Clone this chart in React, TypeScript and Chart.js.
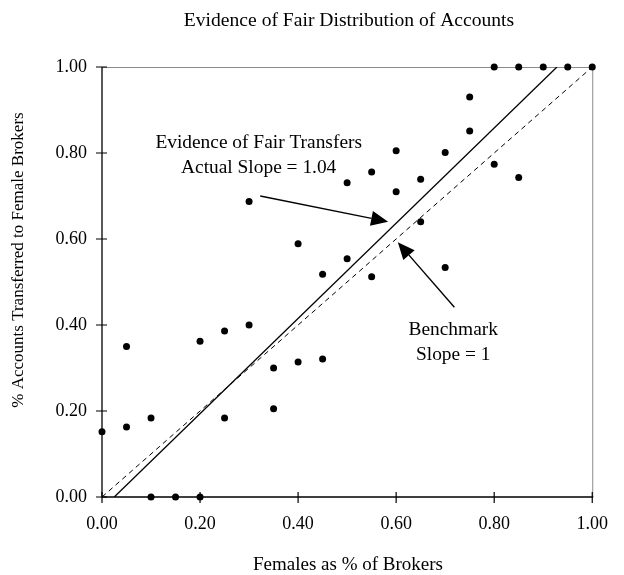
import React, { useEffect, useRef } from "react";
import { Chart, registerables } from "chart.js";

Chart.register(...registerables);

const FONT = "'Liberation Serif', 'Times New Roman', serif";

const chartTitle = "Evidence of Fair Distribution of Accounts";
const xTitle = "Females as % of Brokers";
const yTitle = "% Accounts Transferred to Female Brokers";

// Observations: share of female brokers vs share of accounts transferred to them
const brokerShare = [
  0.0, 0.05, 0.05, 0.1, 0.1, 0.15, 0.2, 0.2, 0.25, 0.25, 0.3, 0.3, 0.35, 0.35,
  0.4, 0.4, 0.45, 0.45, 0.5, 0.5, 0.55, 0.55, 0.6, 0.6, 0.65, 0.65, 0.7, 0.7,
  0.75, 0.75, 0.8, 0.8, 0.85, 0.85, 0.9, 0.95, 1.0,
];
const accountShare = [
  0.152, 0.35, 0.163, 0.184, 0.0, 0.0, 0.0, 0.362, 0.386, 0.184, 0.4, 0.687,
  0.3, 0.205, 0.589, 0.314, 0.321, 0.518, 0.731, 0.554, 0.756, 0.512, 0.805,
  0.71, 0.739, 0.64, 0.801, 0.534, 0.93, 0.851, 0.774, 1.0, 1.0, 0.743, 1.0,
  1.0, 1.0,
];

// Fitted line (actual slope) and benchmark line (slope = 1)
const fitX = [0.025, 0.928];
const fitY = [0.0, 1.0];
const benchX = [0.0, 1.0];
const benchY = [0.0, 1.0];

const tickValues = [0, 0.2, 0.4, 0.6, 0.8, 1.0];

// Annotations (data coordinates)
const fitNote = ["Evidence of Fair Transfers", "Actual Slope = 1.04"];
const fitNoteAt = { x: 0.3196, y: [0.811, 0.753] };
const fitArrow = { from: [0.3228, 0.7], to: [0.5836, 0.6402] };
const benchNote = ["Benchmark", "Slope = 1"];
const benchNoteAt = { x: 0.7164, y: [0.376, 0.318] };
const benchArrow = { from: [0.7188, 0.4412], to: [0.6034, 0.5923] };

function drawArrow(ctx: CanvasRenderingContext2D, x1: number, y1: number, x2: number, y2: number) {
  const ang = Math.atan2(y2 - y1, x2 - x1);
  const len = 17;
  const hw = 7.5;
  const bx = x2 - len * Math.cos(ang);
  const by = y2 - len * Math.sin(ang);
  ctx.beginPath();
  ctx.moveTo(x1, y1);
  ctx.lineTo(bx, by);
  ctx.lineWidth = 1.4;
  ctx.strokeStyle = "#000";
  ctx.stroke();
  ctx.beginPath();
  ctx.moveTo(x2, y2);
  ctx.lineTo(bx + hw * Math.sin(ang), by - hw * Math.cos(ang));
  ctx.lineTo(bx - hw * Math.sin(ang), by + hw * Math.cos(ang));
  ctx.closePath();
  ctx.fillStyle = "#000";
  ctx.fill();
}

const framePlugin = {
  id: "frame",
  beforeDatasetsDraw(chart: any) {
    const { ctx, chartArea: a, scales } = chart;
    const xs = scales.x;
    const ys = scales.y;
    ctx.save();
    // gray top and right frame
    ctx.strokeStyle = "#8a8a8a";
    ctx.lineWidth = 1;
    ctx.beginPath();
    ctx.moveTo(a.left, a.top + 0.5);
    ctx.lineTo(a.right + 0.5, a.top + 0.5);
    ctx.lineTo(a.right + 0.5, a.bottom);
    ctx.stroke();
    // black left and bottom axes
    ctx.strokeStyle = "#000";
    ctx.lineWidth = 1.3;
    ctx.beginPath();
    ctx.moveTo(a.left, a.top);
    ctx.lineTo(a.left, a.bottom);
    ctx.lineTo(a.right + 1, a.bottom);
    ctx.stroke();
    // crossing tick marks
    ctx.lineWidth = 1.2;
    ctx.beginPath();
    tickValues.forEach((v) => {
      const px = xs.getPixelForValue(v);
      ctx.moveTo(px, a.bottom - 5);
      ctx.lineTo(px, a.bottom + 6);
      const py = ys.getPixelForValue(v);
      ctx.moveTo(a.left - 6, py);
      ctx.lineTo(a.left + 5, py);
    });
    ctx.stroke();
    ctx.restore();
  },
  afterDraw(chart: any) {
    const { ctx, scales } = chart;
    const xs = scales.x;
    const ys = scales.y;
    ctx.save();
    ctx.fillStyle = "#000";
    ctx.textAlign = "center";
    ctx.textBaseline = "alphabetic";
    // titles
    ctx.font = `19.6px ${FONT}`;
    ctx.fillText(chartTitle, 349, 25.5);
    ctx.font = `19px ${FONT}`;
    ctx.fillText(xTitle, 348, 569.5);
    ctx.save();
    ctx.translate(23, 260);
    ctx.rotate(-Math.PI / 2);
    ctx.font = `17px ${FONT}`;
    ctx.fillText(yTitle, 0, 0);
    ctx.restore();
    // annotations
    ctx.font = `19.4px ${FONT}`;
    fitNote.forEach((t, i) => {
      ctx.fillText(t, xs.getPixelForValue(fitNoteAt.x), ys.getPixelForValue(fitNoteAt.y[i]));
    });
    benchNote.forEach((t, i) => {
      ctx.fillText(t, xs.getPixelForValue(benchNoteAt.x), ys.getPixelForValue(benchNoteAt.y[i]));
    });
    [fitArrow, benchArrow].forEach((ar) => {
      drawArrow(
        ctx,
        xs.getPixelForValue(ar.from[0]),
        ys.getPixelForValue(ar.from[1]),
        xs.getPixelForValue(ar.to[0]),
        ys.getPixelForValue(ar.to[1])
      );
    });
    ctx.restore();
  },
};

export default function App() {
  const ref = useRef<HTMLCanvasElement | null>(null);
  useEffect(() => {
    if (!ref.current) return;
    const chart = new Chart(ref.current, {
      type: "scatter",
      data: {
        datasets: [
          {
            type: "line",
            label: "Benchmark",
            data: benchX.map((x, i) => ({ x, y: benchY[i] })),
            borderColor: "#000",
            borderWidth: 1,
            borderDash: [5, 4],
            pointRadius: 0,
            fill: false,
          } as any,
          {
            type: "line",
            label: "Fitted",
            data: fitX.map((x, i) => ({ x, y: fitY[i] })),
            borderColor: "#000",
            borderWidth: 1.3,
            pointRadius: 0,
            fill: false,
          } as any,
          {
            label: "Observations",
            data: brokerShare.map((x, i) => ({ x, y: accountShare[i] })),
            backgroundColor: "#000",
            borderColor: "#000",
            pointRadius: 3.5,
            pointBorderWidth: 0,
            clip: false,
          } as any,
        ],
      },
      options: {
        animation: false,
        responsive: false,
        layout: { padding: { top: 67, right: 17, left: 0, bottom: 0 } },
        plugins: {
          legend: { display: false },
          tooltip: { enabled: false },
          title: { display: false },
        },
        scales: {
          x: {
            type: "linear",
            min: 0,
            max: 1,
            afterFit: (s: any) => {
              s.height = 78;
            },
            afterBuildTicks: (s: any) => {
              s.ticks = tickValues.map((v) => ({ value: v }));
            },
            ticks: {
              callback: (v: any) => Number(v).toFixed(2),
              font: { family: FONT, size: 18 },
              color: "#000",
              padding: 16,
              maxRotation: 0,
              autoSkip: false,
            },
            grid: { display: false, drawTicks: false, tickLength: 0 },
            border: { display: false },
          },
          y: {
            type: "linear",
            min: 0,
            max: 1,
            afterFit: (s: any) => {
              s.width = 102;
            },
            afterBuildTicks: (s: any) => {
              s.ticks = tickValues.map((v) => ({ value: v }));
            },
            ticks: {
              callback: (v: any) => Number(v).toFixed(2),
              font: { family: FONT, size: 18 },
              color: "#000",
              padding: 15,
              autoSkip: false,
            },
            grid: { display: false, drawTicks: false, tickLength: 0 },
            border: { display: false },
          },
        },
      },
      plugins: [framePlugin],
    });
    return () => chart.destroy();
  }, []);
  return (
    <div style={{ position: "absolute", left: 0, top: 0, width: 624, height: 575, background: "#fff" }}>
      <canvas ref={ref} width={624} height={575} style={{ display: "block" }} />
    </div>
  );
}
